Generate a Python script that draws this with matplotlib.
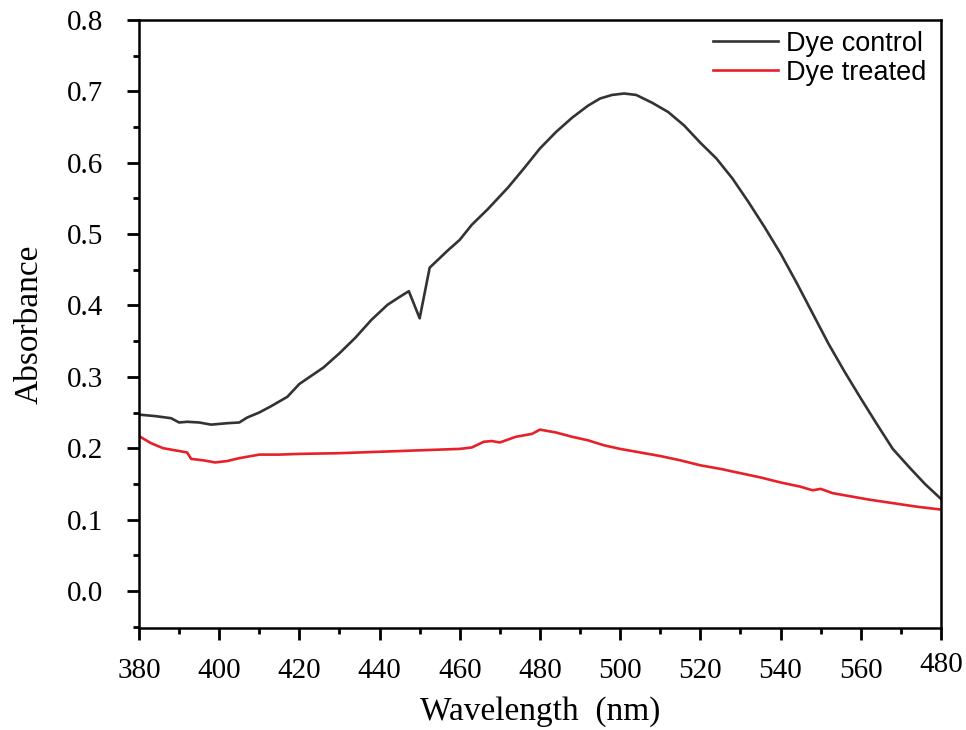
import matplotlib
matplotlib.use("Agg")
import matplotlib.pyplot as plt
from matplotlib.ticker import MultipleLocator
from matplotlib.transforms import ScaledTranslation

# Dye control spectrum
wl_control = [380, 384, 388, 390, 392, 395, 398, 402, 405, 407, 410, 413, 417, 420,
              426, 430, 434, 438, 442, 445, 447.3, 450, 452.5, 457, 460, 463, 467,
              472, 476, 480, 484, 488, 492, 495, 498, 501, 504, 508, 512, 516, 520,
              524, 528, 532, 536, 540, 544, 548, 552, 556, 560, 564, 568, 572, 576, 580]
abs_control = [0.247, 0.245, 0.242, 0.236, 0.237, 0.236, 0.233, 0.235, 0.236, 0.243,
               0.250, 0.259, 0.272, 0.290, 0.313, 0.333, 0.355, 0.380, 0.401, 0.412,
               0.420, 0.382, 0.453, 0.477, 0.492, 0.513, 0.535, 0.565, 0.592, 0.620,
               0.643, 0.663, 0.680, 0.690, 0.695, 0.697, 0.695, 0.684, 0.671, 0.652,
               0.628, 0.606, 0.578, 0.545, 0.510, 0.473, 0.432, 0.389, 0.346, 0.307,
               0.270, 0.234, 0.199, 0.174, 0.150, 0.129]

# Dye treated spectrum
wl_treated = [380, 383, 386, 390, 392, 393, 396, 399, 402, 405, 410, 415, 420, 430,
              440, 450, 460, 463, 466, 468, 470, 474, 478, 480, 484, 488, 492, 496,
              500, 505, 510, 515, 520, 525, 530, 535, 540, 545, 548, 550, 553, 557,
              562, 568, 574, 580]
abs_treated = [0.217, 0.207, 0.200, 0.196, 0.194, 0.185, 0.183, 0.180, 0.182, 0.186,
               0.191, 0.191, 0.192, 0.193, 0.195, 0.197, 0.199, 0.201, 0.209, 0.210,
               0.208, 0.216, 0.220, 0.226, 0.222, 0.216, 0.211, 0.204, 0.199, 0.194,
               0.189, 0.183, 0.176, 0.171, 0.165, 0.159, 0.152, 0.146, 0.141, 0.143,
               0.137, 0.133, 0.128, 0.123, 0.118, 0.114]

x_ticks = [380, 400, 420, 440, 460, 480, 500, 520, 540, 560, 580]
x_tick_labels = ["380", "400", "420", "440", "460", "480", "500", "520", "540", "560", "480"]
y_ticks = [0.0, 0.1, 0.2, 0.3, 0.4, 0.5, 0.6, 0.7, 0.8]

serif = ["Liberation Serif", "DejaVu Serif"]
sans = ["Liberation Sans", "DejaVu Sans"]

fig = plt.figure(figsize=(9.66, 7.30), dpi=100)
ax = fig.add_axes([0.1439, 0.1397, 0.8301, 0.8329])

ax.plot(wl_control, abs_control, color="#333333", lw=1.9, label="Dye control")
ax.plot(wl_treated, abs_treated, color="#e8202a", lw=1.9, label="Dye treated")

ax.set_xlim(380, 580)
ax.set_ylim(-0.052, 0.8)
ax.set_xticks(x_ticks)
ax.set_xticklabels(x_tick_labels, fontfamily=serif, fontsize=21)
ax.set_yticks(y_ticks)
ax.set_yticklabels([f"{v:.1f}" for v in y_ticks], fontfamily=serif, fontsize=21)
ax.xaxis.set_minor_locator(MultipleLocator(10))
ax.yaxis.set_minor_locator(MultipleLocator(0.05))

ax.tick_params(which="major", direction="out", length=8.5, width=2)
ax.tick_params(axis="x", which="major", pad=13)
ax.tick_params(axis="y", which="major", pad=17)
ax.tick_params(which="minor", direction="out", length=4.5, width=2)
for s in ax.spines.values():
    s.set_linewidth(1.8)

# the last x tick label sits a little higher in the original
last = ax.get_xticklabels()[-1]
last.set_transform(last.get_transform() + ScaledTranslation(0, 4 / 72, fig.dpi_scale_trans))

ax.set_xlabel("Wavelength  (nm)", fontfamily=serif, fontsize=24, labelpad=9)
ax.set_ylabel("Absorbance", fontfamily=serif, fontsize=24, labelpad=16)

ax.legend(loc="upper right", frameon=False, prop={"family": sans, "size": 19.5},
          handlelength=2.4, handletextpad=0.3, labelspacing=0.1,
          borderaxespad=0.0, bbox_to_anchor=(0.995, 1.0))

fig.savefig("out.png", dpi=100)
